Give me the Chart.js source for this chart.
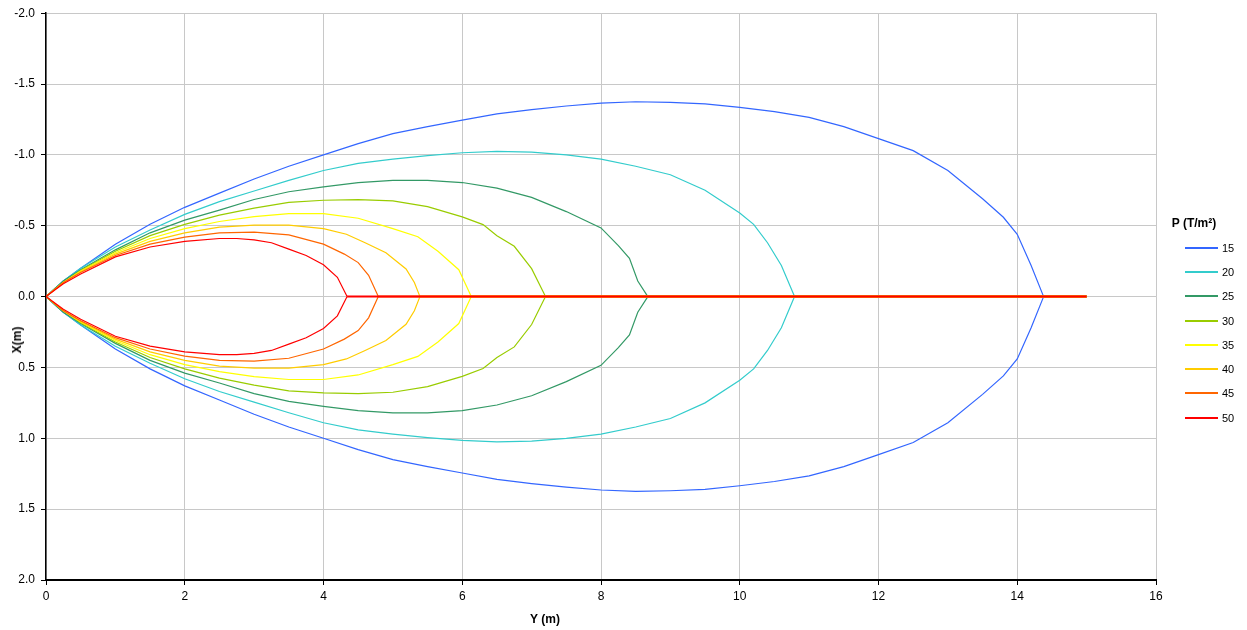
<!DOCTYPE html>
<html><head><meta charset="utf-8">
<script src="https://cdn.jsdelivr.net/npm/chart.js@4/dist/chart.umd.min.js"></script>
<style>
body{margin:0;background:#fff;}
#wrap{position:relative;width:1247px;height:630px;font-family:"Liberation Sans",Arial,sans-serif;color:#000;}
#c{position:absolute;left:0;top:0;}
.t{position:absolute;white-space:nowrap;line-height:1;}
.lg-line{position:absolute;height:2px;}
</style></head><body>
<div id="wrap">
<canvas id="c" width="1247" height="630"></canvas>
<div class="t" id="ytitle" style="left:17px;top:340px;transform:translate(-50%,-50%) rotate(-90deg);font-weight:bold;font-size:12px;">X(m)</div>
<div class="t" id="xtitle" style="left:545px;top:619px;transform:translate(-50%,-50%);font-weight:bold;font-size:12px;">Y (m)</div>
<div class="t" id="lgtitle" style="left:1194px;top:223px;transform:translate(-50%,-50%);font-weight:bold;font-size:12px;">P (T/m²)</div>
</div>
<script>
// Series labels (pressure P, T/m²)
const seriesLabels = ['15','20','25','30','35','40','45','50'];
// Horizontal coordinate Y (m) and half-width X (m) of each contour (mirrored above/below the axis)
const yP15 = [0,0.25,0.5,1,1.5,2,2.5,3,3.5,4,4.5,5,5.5,6,6.5,7,7.5,8,8.5,9,9.5,10,10.5,11,11.5,12,12.5,13,13.5,13.8,14,14.2,14.38];
const xP15 = [0,0.11,0.2,0.37,0.51,0.63,0.73,0.83,0.92,1.0,1.08,1.15,1.2,1.245,1.29,1.32,1.345,1.365,1.375,1.37,1.36,1.335,1.305,1.265,1.2,1.115,1.03,0.89,0.69,0.56,0.44,0.22,0];
const yP20 = [0,0.25,0.5,1,1.5,2,2.5,3,3.5,4,4.5,5,5.5,6,6.5,7,7.5,8,8.5,9,9.5,10,10.2,10.4,10.6,10.79];
const xP20 = [0,0.11,0.2,0.35,0.47,0.58,0.67,0.745,0.82,0.89,0.94,0.97,0.995,1.015,1.025,1.02,1.0,0.97,0.92,0.86,0.75,0.59,0.51,0.38,0.22,0];
const yP25 = [0,0.25,0.5,1,1.5,2,2.5,3,3.5,4,4.5,5,5.5,6,6.5,7,7.5,8,8.25,8.41,8.53,8.675];
const xP25 = [0,0.11,0.19,0.33,0.45,0.54,0.61,0.685,0.74,0.775,0.805,0.82,0.82,0.805,0.765,0.7,0.6,0.485,0.36,0.27,0.11,0];
const yP30 = [0,0.25,0.5,1,1.5,2,2.5,3,3.5,4,4.5,5,5.5,6,6.3,6.5,6.75,7.0,7.2];
const xP30 = [0,0.1,0.185,0.32,0.43,0.51,0.575,0.625,0.665,0.68,0.685,0.675,0.635,0.563,0.508,0.43,0.355,0.197,0];
const yP35 = [0,0.25,0.5,1,1.5,2,2.5,3,3.5,4,4.5,5,5.36,5.65,5.95,6.13];
const xP35 = [0,0.1,0.18,0.31,0.41,0.48,0.53,0.565,0.585,0.585,0.553,0.48,0.422,0.32,0.19,0];
const yP40 = [0,0.25,0.5,1,1.5,2,2.5,3,3.5,4,4.33,4.6,4.9,5.19,5.31,5.39];
const xP40 = [0,0.1,0.175,0.3,0.39,0.45,0.49,0.505,0.505,0.48,0.44,0.38,0.31,0.195,0.1,0];
const yP45 = [0,0.25,0.5,1,1.5,2,2.5,3,3.5,4,4.3,4.5,4.65,4.79];
const xP45 = [0,0.1,0.17,0.29,0.37,0.42,0.45,0.455,0.435,0.37,0.3,0.24,0.15,0];
const yP50 = [0,0.25,0.5,1,1.5,2,2.5,2.75,3,3.25,3.5,3.75,4,4.2,4.34];
const xP50 = [0,0.09,0.16,0.28,0.35,0.39,0.41,0.41,0.4,0.38,0.335,0.29,0.225,0.136,0];
// each contour also runs along the axis out to Y = 15 m
const axisLineEnd = 15;
const xTickStep = 2, yTickStep = 0.5;

const seriesY = [yP15,yP20,yP25,yP30,yP35,yP40,yP45,yP50];
const seriesX = [xP15,xP20,xP25,xP30,xP35,xP40,xP45,xP50];
const colors = ['#3366FF','#33CCCC','#339966','#99CC00','#FFFF00','#FFCC00','#FF6600','#FF0000'];

function outline(ys, xs){
  const pts = [{x: axisLineEnd, y: 0}];
  for (let i = ys.length - 1; i >= 0; i--) pts.push({x: ys[i], y: -xs[i]});
  for (let i = 1; i < ys.length; i++) pts.push({x: ys[i], y: xs[i]});
  return pts;
}

const FONT = '"Liberation Sans", Arial, sans-serif';
const n = seriesLabels.length;
const datasets = seriesLabels.map((lab, i) => ({
  label: lab,
  data: outline(seriesY[i], seriesX[i]),
  borderColor: colors[i],
  backgroundColor: colors[i],
  borderWidth: 1.2,
  segment: {
    borderWidth: ctx => (ctx.p0.parsed.y === 0 && ctx.p1.parsed.y === 0) ? 2 : 1.2
  },
  showLine: true,
  pointRadius: 0,
  tension: 0,
  order: n - 1 - i
}));

new Chart(document.getElementById('c'), {
  type: 'scatter',
  data: { datasets },
  options: {
    responsive: false,
    devicePixelRatio: 1,
    animation: false,
    layout: { padding: { left: 0, right: 91, top: 11, bottom: 0 } },
    plugins: { legend: { display: false }, tooltip: { enabled: false } },
    scales: {
      x: {
        type: 'linear', min: 0, max: 16,
        ticks: { stepSize: xTickStep, color: '#000', font: { family: FONT, size: 12 }, padding: 4, maxRotation: 0 },
        grid: { color: '#c8c8c8', lineWidth: 1, tickColor: '#000', tickLength: 5 },
        border: { color: '#000', width: 2 },
        afterFit: s => { s.height = 50; }
      },
      y: {
        type: 'linear', min: -2, max: 2, reverse: true,
        ticks: { stepSize: yTickStep, color: '#000', font: { family: FONT, size: 12 }, padding: 6,
                 callback: v => Number(v).toFixed(1) },
        grid: { color: '#c8c8c8', lineWidth: 1, tickColor: '#000', tickLength: 5 },
        border: { color: '#000', width: 1.5 },
        afterFit: s => { s.width = 46; }
      }
    }
  }
});

// HTML legend
const wrap = document.getElementById('wrap');
seriesLabels.forEach((lab, i) => {
  const cy = 247.7 + 24.28 * i;
  const ln = document.createElement('div');
  ln.className = 'lg-line';
  ln.style.cssText = `left:1185px;top:${cy - 1}px;width:33px;background:${colors[i]};`;
  wrap.appendChild(ln);
  const tx = document.createElement('div');
  tx.className = 't';
  tx.style.cssText = `left:1222px;top:${cy}px;transform:translateY(-50%);font-size:11px;`;
  tx.textContent = lab;
  wrap.appendChild(tx);
});
</script>
</body></html>
